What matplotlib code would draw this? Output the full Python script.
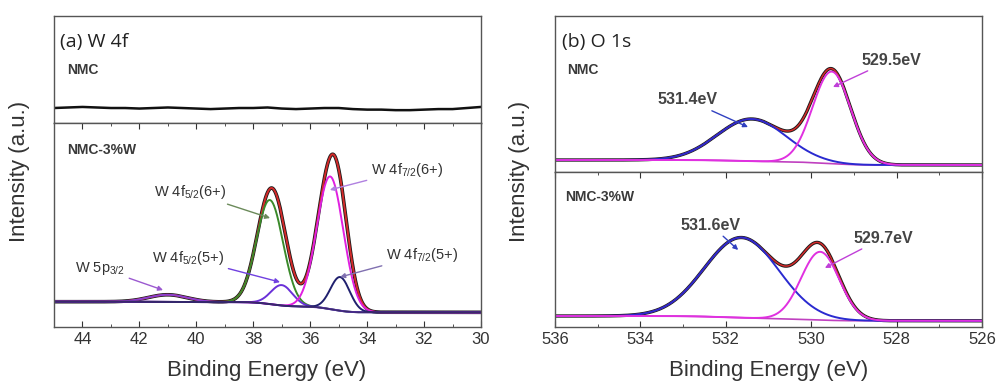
import numpy as np
import matplotlib
matplotlib.use("Agg")
import matplotlib.pyplot as plt
from matplotlib.ticker import MultipleLocator

plt.rcParams["font.family"] = ["Liberation Sans", "DejaVu Sans"]
plt.rcParams["mathtext.default"] = "regular"

# ---- (a) W 4f ------------------------------------------------------------
# NMC: flat trace, read every 0.5 eV from 45 to 30 eV
W_NMC_X = np.arange(45.0, 29.99, -0.5)
W_NMC_Y = [0.14, 0.145, 0.15, 0.145, 0.14, 0.14, 0.135, 0.14, 0.145, 0.14, 0.135,
           0.13, 0.135, 0.14, 0.14, 0.145, 0.135, 0.13, 0.135, 0.14, 0.14, 0.13,
           0.125, 0.125, 0.12, 0.12, 0.125, 0.13, 0.13, 0.14, 0.15]
# NMC-3%W fitted components: centre (eV), height, FWHM (eV)
W_NAMES = ["W 5p$_{3/2}$", "W 4f$_{5/2}$(6+)", "W 4f$_{5/2}$(5+)", "W 4f$_{7/2}$(6+)", "W 4f$_{7/2}$(5+)"]
W_CENTER = [41.0, 37.42, 37.0, 35.3, 34.95]
W_HEIGHT = [0.035, 0.51, 0.10, 0.65, 0.165]
W_FWHM = [1.6, 1.1, 0.9, 1.1, 0.8]
W_COLORS = ["#8a3fd0", "#3a8a2a", "#6a30d8", "#e020e0", "#20206e"]
W_BG = [0.124, 0.072]  # background at the high-BE end / low-BE end
W_TEXT_XY = [(43.38, 0.289), (40.22, 0.662), (40.29, 0.338), (32.60, 0.770), (32.07, 0.353)]
W_ARROW_XY = [(41.17, 0.181), (37.41, 0.534), (37.06, 0.22), (35.31, 0.672), (34.95, 0.245)]
W_ARROW_C = ["#9b59d0", "#6b8a5a", "#7040e0", "#b080e0", "#8070b0"]

# ---- (b) O 1s ------------------------------------------------------------
O_CENTER = {"NMC": [531.39, 529.52], "NMC-3%W": [531.63, 529.79]}
O_HEIGHT = {"NMC": [0.27, 0.59], "NMC-3%W": [0.517, 0.44]}
O_FWHM = {"NMC": [1.9, 1.05], "NMC-3%W": [2.05, 1.05]}
O_BG = {"NMC": [0.077, 0.045], "NMC-3%W": [0.071, 0.04]}
O_COLORS = ["#2a2ad0", "#e030e0"]
O_LABELS = {"NMC": ["531.4eV", "529.5eV"], "NMC-3%W": ["531.6eV", "529.7eV"]}
O_TEXT_XY = {"NMC": [(532.89, 0.462), (528.13, 0.718)], "NMC-3%W": [(532.35, 0.658), (528.32, 0.574)]}
O_ARROW_XY = {"NMC": [(531.48, 0.288), (529.49, 0.545)], "NMC-3%W": [(531.71, 0.497), (529.68, 0.381)]}
O_ARROW_C = ["#3040c0", "#c040d8"]


def gauss(x, c, h, w):
    return h * np.exp(-4 * np.log(2) * (x - c) ** 2 / w ** 2)


def fit(x_lo, x_hi, centers, heights, fwhms, bg):
    x = np.linspace(x_lo, x_hi, 1200)  # ascending BE
    comps = [gauss(x, c, h, w) for c, h, w in zip(centers, heights, fwhms)]
    tot = np.sum(comps, axis=0)
    cum = np.cumsum(tot)
    shirley = bg[1] + (bg[0] - bg[1]) * cum / cum[-1]
    return x, shirley, [shirley + p for p in comps], shirley + tot


def style_pair(top, bot, xlim, step):
    for ax in (top, bot):
        ax.set_xlim(*xlim)
        ax.set_ylim(0, 1)
        ax.set_yticks([])
        for s in ax.spines.values():
            s.set_color("#555555")
            s.set_linewidth(1.0)
    top.set_xticks([])
    bot.xaxis.set_major_locator(MultipleLocator(step))
    bot.xaxis.set_minor_locator(MultipleLocator(step / 2))
    bot.tick_params(axis="x", which="both", direction="in", top=True, labelsize=12,
                    colors="#333333", length=4)
    bot.tick_params(axis="x", which="minor", length=2.5)


fig = plt.figure(figsize=(9.98, 3.88), dpi=100)
axA1 = fig.add_axes([0.0541, 0.683, 0.4279, 0.2758])
axA2 = fig.add_axes([0.0541, 0.1572, 0.4279, 0.5258])
axB1 = fig.add_axes([0.5561, 0.5567, 0.4279, 0.402])
axB2 = fig.add_axes([0.5561, 0.1572, 0.4279, 0.3995])

# (a) top: NMC
axA1.plot(W_NMC_X, W_NMC_Y, color="#111111", lw=1.8)

# (a) bottom: NMC-3%W
x, bg, comps, env = fit(30, 45, W_CENTER, W_HEIGHT, W_FWHM, W_BG)
axA2.plot(x, env, color="#1a1a1a", lw=2.6)
axA2.plot(x, env, color="#d42a2a", lw=1.4)
for y, c in zip(comps, W_COLORS):
    axA2.plot(x, y, color=c, lw=1.4)
axA2.plot(x, bg, color="#3a2a6a", lw=1.0)
for name, txy, axy, ac in zip(W_NAMES, W_TEXT_XY, W_ARROW_XY, W_ARROW_C):
    axA2.annotate(name, xy=axy, xytext=txy, ha="center", va="center", fontsize=10.5,
                  color="#333333",
                  arrowprops=dict(arrowstyle="-|>", color=ac, lw=1.0, mutation_scale=7,
                                  shrinkA=1, shrinkB=0))

style_pair(axA1, axA2, (45, 30), 2)
axA1.text(0.014, 0.757, "(a) W 4f", transform=axA1.transAxes, fontsize=14,
          family=["Open Sans", "DejaVu Sans"], va="center", color="#222222")
axA1.text(0.03, 0.495, "NMC", transform=axA1.transAxes, fontsize=10, va="center",
          color="#3a3a3a", fontweight="bold")
axA2.text(0.03, 0.868, "NMC-3%W", transform=axA2.transAxes, fontsize=10, va="center",
          color="#3a3a3a", fontweight="bold")

# (b) O 1s
for ax, key in ((axB1, "NMC"), (axB2, "NMC-3%W")):
    x, bg, comps, env = fit(526, 536, O_CENTER[key], O_HEIGHT[key], O_FWHM[key], O_BG[key])
    ax.plot(x, env, color="#1a1a1a", lw=2.4)
    ax.plot(x, env, color="#d42a2a", lw=1.1)
    ax.plot(x, bg, color="#c040c0", lw=1.2)
    for y, c in zip(comps, O_COLORS):
        ax.plot(x, y, color=c, lw=1.4)
    for lab, txy, axy, ac in zip(O_LABELS[key], O_TEXT_XY[key], O_ARROW_XY[key], O_ARROW_C):
        ax.annotate(lab, xy=axy, xytext=txy, ha="center", va="center", fontsize=11.5,
                    color="#444444", fontweight="bold",
                    arrowprops=dict(arrowstyle="-|>", color=ac, lw=1.0, mutation_scale=7,
                                    shrinkA=1, shrinkB=0))

style_pair(axB1, axB2, (536, 526), 2)
axB1.text(0.016, 0.833, "(b) O 1s", transform=axB1.transAxes, fontsize=14,
          family=["Open Sans", "DejaVu Sans"], va="center", color="#222222")
axB1.text(0.028, 0.654, "NMC", transform=axB1.transAxes, fontsize=10, va="center",
          color="#3a3a3a", fontweight="bold")
axB2.text(0.023, 0.839, "NMC-3%W", transform=axB2.transAxes, fontsize=10, va="center",
          color="#3a3a3a", fontweight="bold")

for xc in (0.020, 0.521):
    fig.text(xc, 0.558, "Intensity (a.u.)", rotation=90, ha="center", va="center",
             fontsize=16, color="#333333")
for xc in (0.267, 0.77):
    fig.text(xc, 0.046, "Binding Energy (eV)", ha="center", va="center", fontsize=16,
             color="#333333")

fig.savefig("out.png", dpi=100)
